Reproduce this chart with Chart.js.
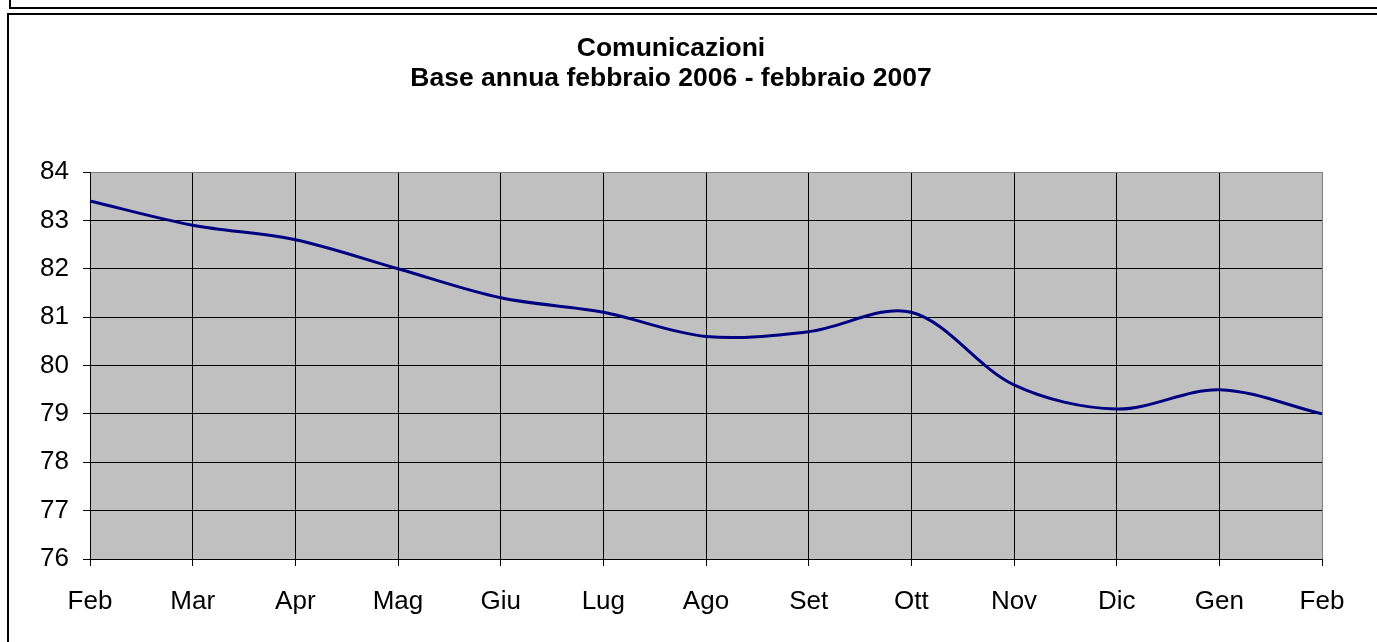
<!DOCTYPE html>
<html>
<head>
<meta charset="utf-8">
<script src="https://cdn.jsdelivr.net/npm/chart.js@4"></script>
<style>
  html, body { margin: 0; padding: 0; background: #fff; overflow: hidden; }
  body { width: 1377px; height: 642px; position: relative; }
  #wrap { position: absolute; left: 0; top: 0; width: 1377px; height: 642px; }
  .frame { position: absolute; border: 2px solid #000; pointer-events: none; background: transparent; }
</style>
</head>
<body>
<div id="wrap"><canvas id="myChart" width="1377" height="642"></canvas></div>
<div class="frame" style="left:9px; top:-11px; width:1420px; height:16px;"></div>
<div class="frame" style="left:7px; top:13px; width:1420px; height:700px;"></div>
<script>
const ctx = document.getElementById('myChart')

const months = ['Feb', 'Mar', 'Apr', 'Mag', 'Giu', 'Lug', 'Ago', 'Set', 'Ott', 'Nov', 'Dic', 'Gen', 'Feb']
const values = [83.4, 82.9, 82.6, 82.0, 81.4, 81.1, 80.6, 80.7, 81.1, 79.6, 79.1, 79.5, 79.0]
const titleLines = ['Comunicazioni', 'Base annua febbraio 2006 - febbraio 2007']
const yMin = 76
const yMax = 84

Chart.defaults.font.family = 'Arial, "Liberation Sans", sans-serif'
Chart.defaults.color = '#000'

// grey plot background like the old spreadsheet chart
const plotBg = {
    id: 'plotBg',
    beforeDraw(chart) {
        const a = chart.chartArea
        const c = chart.ctx
        c.save()
        c.fillStyle = '#c0c0c0'
        c.fillRect(a.left, a.top, a.right - a.left, a.bottom - a.top)
        c.restore()
    }
}

const myChart = new Chart(ctx, {
    type: 'line',
    data: {
        labels: months,
        datasets: [{
            label: 'Comunicazioni',
            data: values,
            borderColor: '#000080',
            borderWidth: 3,
            pointRadius: 0,
            tension: 0.33,
            fill: false
        }]
    },
    options: {
        responsive: false,
        animation: false,
        layout: {
            padding: { left: 20, right: 55, top: 0, bottom: 0 }
        },
        plugins: {
            legend: { display: false },
            tooltip: { enabled: false },
            title: {
                display: true,
                text: titleLines,
                color: '#000',
                font: { size: 26.5, weight: 'bold', lineHeight: 30 / 26.5 },
                padding: { top: 34, bottom: 78 }
            }
        },
        scales: {
            x: {
                offset: false,
                afterFit(scale) { scale.height = 83 },
                grid: {
                    color: (c) => c.index === months.length - 1 ? '#808080' : '#000',
                    tickColor: '#000',
                    tickLength: 7,
                    lineWidth: 1
                },
                border: { color: '#000', width: 1 },
                ticks: {
                    font: { size: 26 },
                    color: '#000',
                    padding: 20,
                    maxRotation: 0,
                    autoSkip: false
                }
            },
            y: {
                min: yMin,
                max: yMax,
                afterFit(scale) { scale.width = 70 },
                grid: {
                    color: (c) => c.tick && c.tick.value === yMax ? '#808080' : '#000',
                    tickColor: '#000',
                    tickLength: 7,
                    lineWidth: 1
                },
                border: { color: '#000', width: 1 },
                ticks: {
                    stepSize: 1,
                    font: { size: 26 },
                    color: '#000',
                    padding: 14
                }
            }
        }
    },
    plugins: [plotBg]
})
</script>
</body>
</html>
